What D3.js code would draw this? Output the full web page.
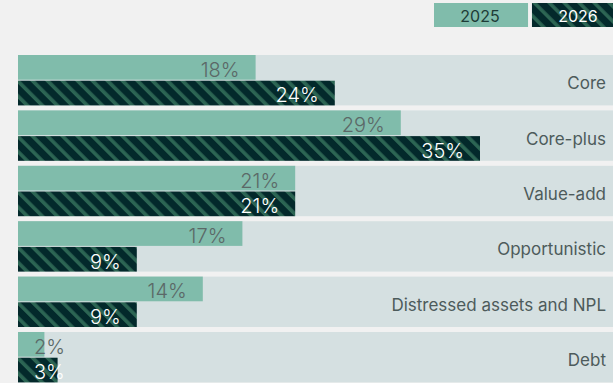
<!DOCTYPE html>
<html>
<head>
<meta charset="utf-8">
<script src="https://cdn.jsdelivr.net/npm/d3@7"></script>
<style>
  html, body { margin: 0; padding: 0; background: #f1f1f1; }
  svg { display: block; }
</style>
</head>
<body>
<svg id="chart" width="613" height="383"></svg>
<script>
const categories = ["Core", "Core-plus", "Value-add", "Opportunistic", "Distressed assets and NPL", "Debt"];
const series = ["2025", "2026"];
const values2025 = [18, 29, 21, 17, 14, 2];
const values2026 = [24, 35, 21, 9, 9, 3];

const W = 613, H = 383;
const svg = d3.select("#chart");
const font = "Inter, 'Noto Sans', sans-serif";

const defs = svg.append("defs");
const pat = defs.append("pattern")
  .attr("id", "hatch")
  .attr("patternUnits", "userSpaceOnUse")
  .attr("width", 10.6).attr("height", 10.6)
  .attr("patternTransform", "rotate(-45)");
pat.append("rect").attr("width", 10.6).attr("height", 10.6).attr("fill", "#03292b");
pat.append("rect").attr("x", 0).attr("width", 3.6).attr("height", 10.6).attr("fill", "#2c6553");

const x = d3.scaleLinear().domain([0, 45]).range([18, 612]);
const y = d3.scaleBand().domain(categories).range([55, 382.4]).paddingInner(0.09).paddingOuter(0);
const ys = d3.scaleBand().domain(series).range([0, y.bandwidth()]).paddingInner(0.04);

const fills = { "2025": "#80bcab", "2026": "url(#hatch)" };
const labelColors = { "2025": "#5b6867", "2026": "#ffffff" };

const rows = svg.append("g").selectAll("g").data(categories).join("g")
  .attr("transform", d => `translate(0,${y(d)})`);

rows.append("rect")
  .attr("x", x(0)).attr("y", 0)
  .attr("width", W - x(0)).attr("height", y.bandwidth())
  .attr("fill", "#d5e0e1");

rows.append("text")
  .attr("x", 606).attr("y", y.bandwidth() / 2)
  .attr("dy", "0.53em")
  .attr("text-anchor", "end")
  .attr("font-family", font).attr("font-size", 17).attr("font-weight", 400)
  .attr("fill", "#4d5b5b")
  .text(d => d);

const data = [];
categories.forEach((c, i) => {
  data.push({ c, s: "2025", v: values2025[i] });
  data.push({ c, s: "2026", v: values2026[i] });
});

const bars = svg.append("g").selectAll("g").data(data).join("g")
  .attr("transform", d => `translate(0,${y(d.c) + ys(d.s)})`);

bars.append("rect")
  .attr("x", x(0)).attr("y", 0)
  .attr("width", d => x(d.v) - x(0))
  .attr("height", ys.bandwidth())
  .attr("fill", d => fills[d.s]);

bars.append("text")
  .attr("y", ys.bandwidth() / 2)
  .attr("dy", "0.47em")
  .attr("text-anchor", "end")
  .attr("font-family", font).attr("font-size", 20).attr("font-weight", 300)
  .attr("fill", d => labelColors[d.s])
  .text(d => d.v + "%")
  .attr("x", function(d) {
    const w = this.getComputedTextLength();
    return Math.max(x(d.v) - 16, x(0) + 16 + w);
  });

// Legend
const legend = svg.append("g");
const lx = d3.scaleBand().domain(series).range([434, 626]).paddingInner(0.04);
const lg = legend.selectAll("g").data(series).join("g")
  .attr("transform", d => `translate(${lx(d)},3)`);
lg.append("rect").attr("width", lx.bandwidth()).attr("height", 24)
  .attr("fill", d => fills[d]);
lg.append("text")
  .attr("x", lx.bandwidth() / 2 - 1).attr("y", 12).attr("dy", "0.45em")
  .attr("text-anchor", "middle")
  .attr("font-family", font).attr("font-size", 16).attr("font-weight", 400)
  .attr("fill", d => d === "2025" ? "#1d3b36" : "#ffffff")
  .text(d => d);
</script>
</body>
</html>
